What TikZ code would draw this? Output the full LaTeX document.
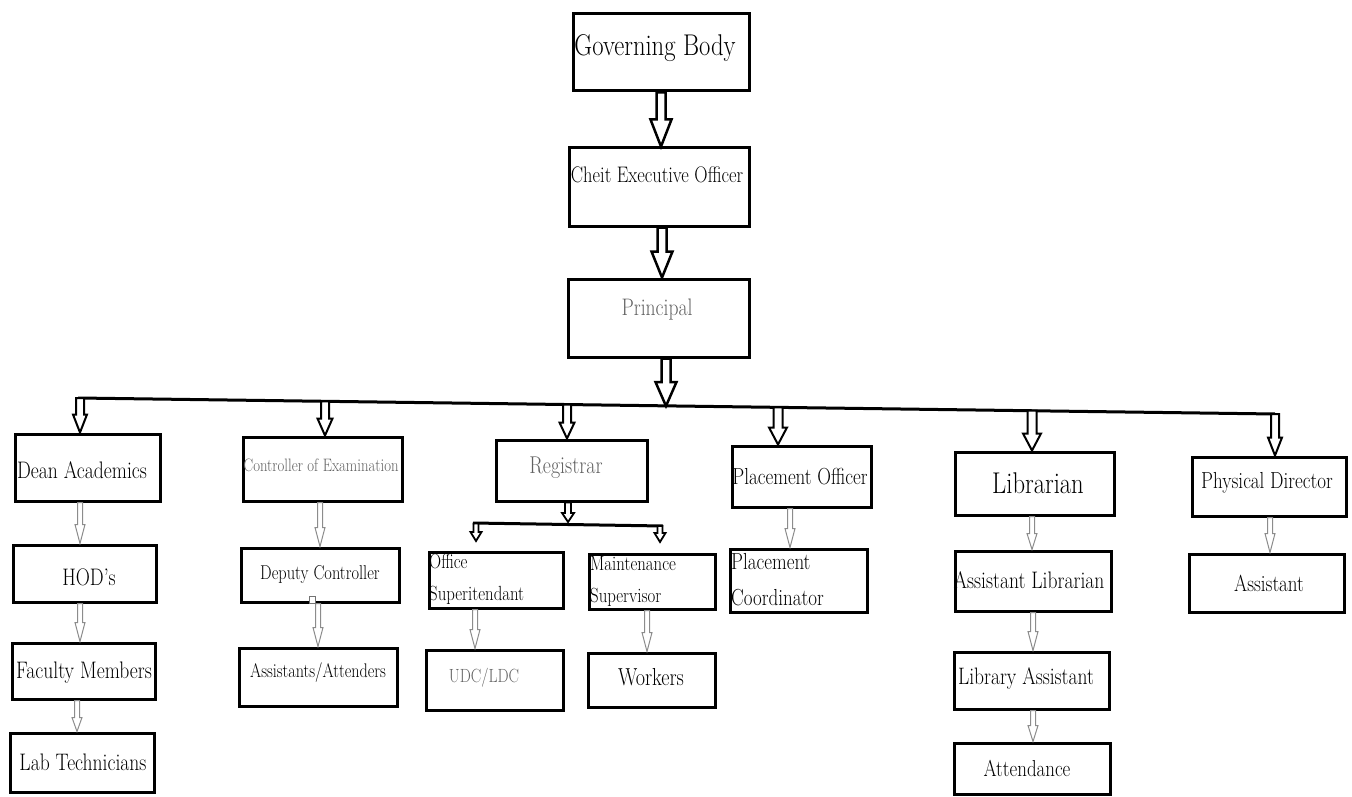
\documentclass[tikz,border=0pt]{standalone}
\usepackage{fontspec}
\usepackage{graphicx}
\usetikzlibrary{calc}
\tikzset{
  box/.style={draw, line width=3pt, inner sep=0pt, fill=white},
  lbl/.style={inner sep=0pt, text=black},
  glbl/.style={inner sep=0pt, text=black!62},
  bigarr/.style={draw=black, line width=2.5pt, fill=white, line join=miter},
  busarr/.style={draw=black, line width=2pt, fill=white, line join=miter},
  subarr/.style={draw=black, line width=1.8pt, fill=white, line join=miter},
  smallarr/.style={draw=black!45, line width=1pt, fill=white},
  busline/.style={line width=3pt},
}
% block arrow: #1 style, #2 half shaft, #3 half head, #4 head length, #5 start, #6 end (x of start, y of end)
\newcommand{\blockarrow}[6]{%
  \draw[#1] let \p1=(#5), \p2=(#6) in
    (\x1-#2,\y1) -- (\x1-#2,\y2+#4) -- (\x1-#3,\y2+#4) -- (\x1,\y2)
    -- (\x1+#3,\y2+#4) -- (\x1+#2,\y2+#4) -- (\x1+#2,\y1) -- cycle;}
\newcommand{\orgbox}[5]{\node[box, minimum width=#4pt, minimum height=#5pt] (#1) at (#2,#3) {};}
\newcommand{\fs}[1]{\fontsize{#1}{#1}\selectfont}
\newcommand{\fsl}[2]{\fontsize{#1}{#2}\selectfont}
\newcommand{\sx}[1]{\scalebox{0.82}[1]{#1}}
\begin{document}
\begin{tikzpicture}[x=1pt,y=-1pt]
\useasboundingbox (0,0) rectangle (1352,797);

% ---------- boxes ----------
\orgbox{gb}{661}{52.5}{176}{77}
\orgbox{ceo}{659}{187}{180}{78}
\orgbox{prin}{658.5}{318}{181}{78}

\orgbox{dean}{87.5}{467.5}{145}{67}
\orgbox{hod}{84.5}{573.5}{143}{57}
\orgbox{fac}{83.5}{671}{143}{56}
\orgbox{lab}{82}{762.5}{144}{59}

\orgbox{coe}{322.5}{469}{159}{64}
\orgbox{dep}{320}{575}{158}{54}
\orgbox{asat}{318}{677}{158}{58}

\orgbox{reg}{571.5}{470.5}{151}{61}
\orgbox{os}{496}{580}{134}{56}
\orgbox{ms}{652}{581.5}{126}{55}
\orgbox{udc}{494.5}{680}{137}{60}
\orgbox{wrk}{651.5}{680}{127}{54}

\orgbox{po}{801.5}{476.5}{139}{61}
\orgbox{pc}{798.5}{580.5}{137}{63}

\orgbox{lib}{1034.5}{483.5}{159}{63}
\orgbox{alib}{1033}{581}{156}{60}
\orgbox{lasst}{1031.5}{680.5}{155}{57}
\orgbox{att}{1032}{768.5}{156}{51}

\orgbox{pd}{1269}{486.5}{154}{59}
\orgbox{ast}{1266.5}{583}{155}{58}

% ---------- texts ----------
\node[lbl, font=\fs{30}] (gb-t) at (655,48) {\sx{Governing Body}};
\node[lbl, font=\fs{22.5}] (ceo-t) at (657,175) {\sx{Cheit Executive Officer}};
\node[glbl, font=\fs{23.9}] (prin-t) at (657,310) {\sx{Principal}};

\node[lbl, font=\fs{23.9}] (dean-t) at (82,470) {\sx{Dean Academics}};
\node[lbl, font=\fs{23.9}] (hod-t) at (89,577) {\sx{HOD's}};
\node[lbl, font=\fs{23.9}] (fac-t) at (84,673) {\sx{Faculty Members}};
\node[lbl, font=\fs{23.9}] (lab-t) at (83,762) {\sx{Lab Technicians}};

\node[glbl, font=\fs{18}] (coe-t) at (321,465) {\sx{Controller of Examination}};
\node[lbl, font=\fs{20}] (dep-t) at (320,575) {\sx{Deputy Controller}};
\node[lbl, font=\fs{19.7}] (asat-t) at (318,673) {\sx{Assistants/Attenders}};

\node[glbl, font=\fs{24.3}] (reg-t) at (566,468) {\sx{Registrar}};
\node[lbl, anchor=west, align=left, font=\fsl{20.5}{32}] (os-t) at (429,579) {\sx{Office}\\\sx{Superitendant}};
\node[lbl, anchor=west, align=left, font=\fsl{20.5}{32}] (ms-t) at (590,581) {\sx{Maintenance}\\\sx{Supervisor}};
\node[glbl, font=\fs{19.1}] (udc-t) at (484,678) {\sx{UDC/LDC}};
\node[lbl, font=\fs{24.6}] (wrk-t) at (651,677) {\sx{Workers}};

\node[lbl, font=\fs{23.2}] (po-t) at (800,477) {\sx{Placement Officer}};
\node[lbl, anchor=west, align=left, font=\fsl{23.2}{36}] (pc-t) at (731,580) {\sx{Placement}\\\sx{Coordinator}};

\node[lbl, font=\fs{30}] (lib-t) at (1038,483) {\sx{Librarian}};
\node[lbl, font=\fs{23.9}] (alib-t) at (1029,580) {\sx{Assistant Librarian}};
\node[lbl, font=\fs{23.8}] (lasst-t) at (1026,678) {\sx{Library Assistant}};
\node[lbl, font=\fs{23.1}] (att-t) at (1027,768) {\sx{Attendance}};

\node[lbl, font=\fs{23.2}] (pd-t) at (1267,483) {\sx{Physical Director}};
\node[lbl, font=\fs{23.2}] (ast-t) at (1269,583) {\sx{Assistant}};

% ---------- main bus ----------
\coordinate (busL) at (78,398);
\coordinate (busR) at (1275,414);
\draw[busline] (busL) -- (busR);
\coordinate (pB) at (666,406);
\coordinate (bDean) at (80,398);
\coordinate (bCoe) at (325,401.3);
\coordinate (bReg) at (567,404.5);
\coordinate (bPo) at (778,407.4);
\coordinate (bLib) at (1032,410.7);
\coordinate (bPd) at (1275,414);

% ---------- top chain arrows ----------
\blockarrow{bigarr}{4.5pt}{10.5pt}{27pt}{gb.south}{ceo.north}
\blockarrow{bigarr}{4.5pt}{10.5pt}{26pt}{[xshift=3pt]ceo.south}{prin.north}
\blockarrow{bigarr}{4.5pt}{10.5pt}{24pt}{[xshift=7.5pt]prin.south}{pB}

% ---------- bus drops ----------
\blockarrow{busarr}{4pt}{7pt}{18pt}{bDean}{dean.north}
\blockarrow{busarr}{4pt}{7.5pt}{17pt}{bCoe}{coe.north}
\blockarrow{busarr}{4pt}{7.5pt}{16pt}{bReg}{reg.north}
\blockarrow{busarr}{4.5pt}{9pt}{17pt}{bPo}{po.north}
\blockarrow{busarr}{4.5pt}{9pt}{17pt}{bLib}{lib.north}
\blockarrow{busarr}{4pt}{7pt}{18pt}{bPd}{pd.north}

% ---------- registrar sub-bus ----------
\coordinate (rB) at (568,522);
\coordinate (rL) at (473,523);
\coordinate (rR) at (663,526);
\coordinate (rOs) at (476,523.5);
\coordinate (rMs) at (660,526);
\coordinate (rOsEnd) at (476,541);
\coordinate (rMsEnd) at (660,542);
\blockarrow{subarr}{3pt}{6pt}{9pt}{[xshift=-3.5pt]reg.south}{rB}
\draw[busline] (rL) -- (rR);
\blockarrow{subarr}{2.5pt}{5.5pt}{9pt}{rOs}{rOsEnd}
\blockarrow{subarr}{2.5pt}{5.5pt}{9pt}{rMs}{rMsEnd}

% ---------- small grey arrows ----------
\blockarrow{smallarr}{2.5pt}{5pt}{19pt}{[xshift=-7.5pt]dean.south}{hod.north}
\blockarrow{smallarr}{2.5pt}{5pt}{19pt}{[xshift=-4.5pt]hod.south}{fac.north}
\blockarrow{smallarr}{2.5pt}{5pt}{14pt}{[xshift=-6.5pt]fac.south}{lab.north}
\blockarrow{smallarr}{2.5pt}{5pt}{19pt}{[xshift=-2.5pt]coe.south}{dep.north}
\blockarrow{smallarr}{2.5pt}{5pt}{19pt}{[xshift=-2pt]dep.south}{asat.north}
\draw[black!55, line width=1pt, fill=white] (309,596) rectangle (315,603);
\blockarrow{smallarr}{2.5pt}{5pt}{19pt}{[xshift=-21pt]os.south}{udc.north}
\blockarrow{smallarr}{2.5pt}{5pt}{19pt}{[xshift=-5pt]ms.south}{wrk.north}
\blockarrow{smallarr}{2.5pt}{5pt}{19pt}{[xshift=-11.5pt]po.south}{pc.north}
\blockarrow{smallarr}{2.5pt}{5pt}{16pt}{[xshift=-2.5pt]lib.south}{alib.north}
\blockarrow{smallarr}{2.5pt}{5pt}{19pt}{alib.south}{lasst.north}
\blockarrow{smallarr}{2.5pt}{5pt}{16pt}{[xshift=1.5pt]lasst.south}{att.north}
\blockarrow{smallarr}{2.5pt}{5pt}{19pt}{[xshift=1pt]pd.south}{ast.north}
\end{tikzpicture}
\end{document}
